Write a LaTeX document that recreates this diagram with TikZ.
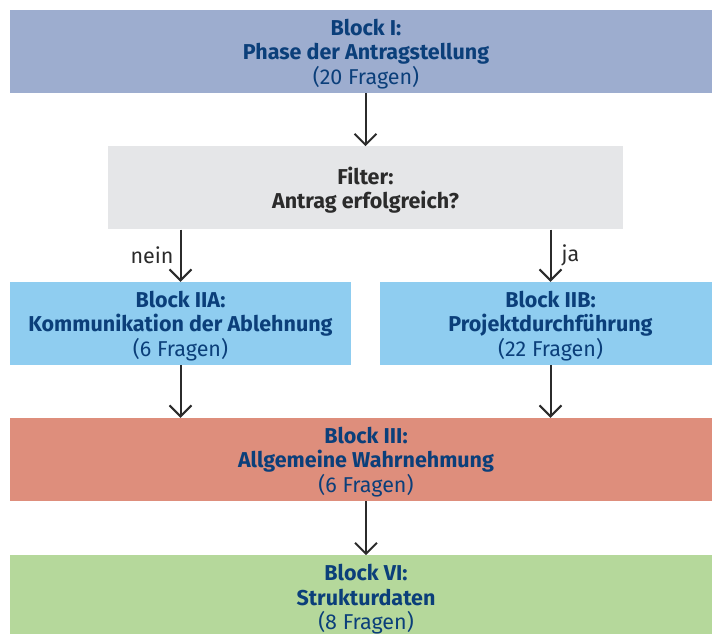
\documentclass[tikz,border=0pt]{standalone}
\usepackage{fontspec}
\setmainfont{Fira Sans}
\usepackage{tikz}
\usetikzlibrary{arrows.meta,positioning,calc}
\definecolor{blockI}{HTML}{9DADCF}
\definecolor{filtergray}{HTML}{E5E6E8}
\definecolor{blockII}{HTML}{8FCDF0}
\definecolor{blockIII}{HTML}{DE8E7C}
\definecolor{blockVI}{HTML}{B5D89B}
\definecolor{textblue}{HTML}{0B3F7A}
\definecolor{textgray}{HTML}{2B2B2B}

\begin{document}
\begin{tikzpicture}[
    x=1pt, y=1pt,
    font=\fontsize{21.5}{24.5}\selectfont,
    node distance=53pt,
    field/.style={rounded corners=0pt, minimum height=83pt, align=center, inner sep=0pt, text=textblue, text depth=-4pt},
    wide/.style={field, minimum width=712pt},
    half/.style={field, minimum width=341pt},
    conn/.style={-{Straight Barb[length=11pt,width=22pt]}, line width=2pt, draw=textgray},
    lbl/.style={text=textgray, inner sep=4pt}
]
\useasboundingbox (0,0) rectangle (712,-633);
\clip (0,0) rectangle (712,-633);

\node[wide, fill=blockI] (bI) at (366,-51.5) {\textbf{Block I:}\\\textbf{Phase der Antragstellung}\\(20 Fragen)};
\node[field, fill=filtergray, minimum width=515pt, text=textgray, below=53pt of bI, xshift=-0.5pt] (filt) {\textbf{Filter:}\\\textbf{Antrag erfolgreich?}};
\node[half, fill=blockII] (bIIA) at (180.5,-323.5) {\textbf{Block IIA:}\\\textbf{Kommunikation der Ablehnung}\\(6 Fragen)};
\node[half, fill=blockII] (bIIB) at (550.5,-323.5) {\textbf{Block IIB:}\\\textbf{Projektdurchführung}\\(22 Fragen)};
\node[wide, fill=blockIII] (bIII) at (366,-459.5) {\textbf{Block III:}\\\textbf{Allgemeine Wahrnehmung}\\(6 Fragen)};
\node[wide, fill=blockVI, below=54pt of bIII] (bVI) {\textbf{Block VI:}\\\textbf{Strukturdaten}\\(8 Fragen)};

\draw[conn] (bI.south -| filt.north) -- (filt.north);
\draw[conn] (filt.south -| bIIA.north) -- node[lbl, left, inner xsep=6pt] {nein} (bIIA.north);
\draw[conn] (filt.south -| bIIB.north) -- node[lbl, right, inner xsep=10pt] {ja} (bIIB.north);
\draw[conn] (bIIA.south) -- (bIIA.south |- bIII.north);
\draw[conn] (bIIB.south) -- (bIIB.south |- bIII.north);
\draw[conn] (bIII.south) -- (bVI.north);
\end{tikzpicture}
\end{document}
